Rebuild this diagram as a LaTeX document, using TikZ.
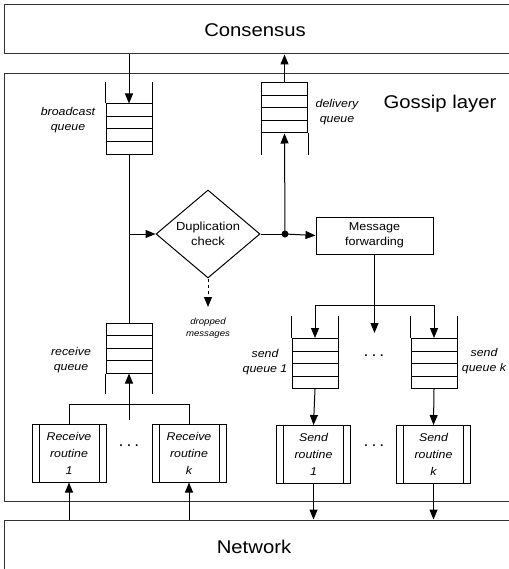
\documentclass[tikz,border=0pt]{standalone}
\usepackage{fontspec}
\setmainfont[FakeStretch=1.1]{Liberation Sans}
\usetikzlibrary{arrows.meta,shapes.geometric,calc}
\begin{document}
\begin{tikzpicture}[x=1bp,y=-1bp,line width=1bp,
  >={Triangle[length=10bp,width=8bp]},
  layerbox/.style={draw=black!80,minimum width=600bp,inner sep=0},
  bigtext/.style={font=\fontsize{18.5}{20}\selectfont},
  qlabel/.style={align=center,font=\fontsize{11.3}{15}\selectfont\itshape},
  queue/.style={draw,minimum width=46bp,minimum height=50bp,inner sep=0,
    path picture={\foreach \f in {0.25,0.5,0.75}
      \draw ($(path picture bounding box.north west)!\f!(path picture bounding box.south west)$) --
            ($(path picture bounding box.north east)!\f!(path picture bounding box.south east)$);}},
  routine/.style={draw,minimum width=74bp,minimum height=58bp,inner sep=0,align=center,
    font=\fontsize{11.3}{17}\selectfont\itshape,
    path picture={
      \draw ([xshift=7bp]path picture bounding box.north west) -- ([xshift=7bp]path picture bounding box.south west);
      \draw ([xshift=-7bp]path picture bounding box.north east) -- ([xshift=-7bp]path picture bounding box.south east);}},
  procbox/.style={draw,align=center,inner sep=0,font=\fontsize{11.5}{15}\selectfont},
  dotsnode/.style={font=\fontsize{16}{16}\selectfont,inner sep=0}
]
\useasboundingbox (0,0) rectangle (509,569);
% layers
\node[layerbox,minimum height=49.5bp] (cons) at (305,29.25) {};
\node[bigtext] (constext) at (255,30) {Consensus};
\node[layerbox,minimum height=427bp] (gossip) at (305,287.5) {};
\node[bigtext] (gosstext) at (440,104) {Gossip layer};
\node[layerbox,minimum height=80bp] (net) at (305,560) {};
\node[bigtext] (nettext) at (254,547) {Network};

% queues
\node[queue] (bq) at (129,129) {};
\draw (bq.north west) -- ++(0,-21) (bq.north east) -- ++(0,-21);
\node[qlabel] (bql) at (68,120) {broadcast\\queue};

\node[queue] (dq) at (284.5,108) {};
\draw (dq.south west) -- ++(0,21) (dq.south east) -- ++(0,21);
\node[qlabel] (dql) at (337,112) {delivery\\queue};

\node[queue] (rq) at (129,348) {};
\draw (rq.south west) -- ++(0,20) (rq.south east) -- ++(0,20);
\node[qlabel] (rql) at (71,360) {receive\\queue};

\node[queue] (sq1) at (315,363.5) {};
\draw (sq1.north west) -- ++(0,-22) (sq1.north east) -- ++(0,-22);
\node[qlabel] (sq1l) at (265,362) {send\\queue 1};

\node[queue] (sqk) at (434,363.5) {};
\draw (sqk.north west) -- ++(0,-22) (sqk.north east) -- ++(0,-22);
\node[qlabel] (sqkl) at (484,361) {send\\queue k};

\node[dotsnode] (qdots) at (374,356) {.\kern3bp.\kern3bp.};

% duplication check
\node[draw,diamond,minimum width=104bp,minimum height=88bp,inner sep=0,aspect=1.18,
      align=center,font=\fontsize{11.8}{15}\selectfont] (dup) at (208,234) {Duplication\\check};
\node[fill,circle,inner sep=0,minimum size=7bp] (dot) at (285,234) {};
\node[procbox,minimum width=117bp,minimum height=37bp] (mf) at (374.5,235.5) {Message\\forwarding};
\coordinate (drop) at (208,307);
\node[align=center,font=\fontsize{8.8}{12}\selectfont\itshape] (dropl) at (208,328) {dropped\\messages};

% routines
\node[routine] (rr1) at (69,453) {Receive\\routine\\1};
\node[routine] (rrk) at (189,453) {Receive\\routine\\k};
\node[dotsnode] (rdots) at (129,446) {.\kern3bp.\kern3bp.};
\node[routine] (sr1) at (313.5,454.5) {Send\\routine\\1};
\node[routine] (srk) at (433.5,454.5) {Send\\routine\\k};
\node[dotsnode] (sdots) at (374,446) {.\kern3bp.\kern3bp.};

\coordinate (split) at (374,305);
\coordinate (midend) at (374,333);
\coordinate (rjoin) at (129,404);
\coordinate (rstart) at (129,420);

% connectors
\draw[->] (bq.north |- cons.south) -- (bq.north);
\draw[->] (dq.north) -- (dq.north |- cons.south);
\draw (bq.south) -- (rq.north);
\draw[->] (bq.south |- dup.west) -- (dup.west);
\draw (dup.east) -- (dot.center);
\draw[->] (dot.center) -- (mf.west);
\draw[->] (dot.center) -- (dq.south);
\draw[->,dash pattern=on 3.5bp off 2.5bp] (dup.south) -- (drop);
\draw (mf.south) -- (mf.south |- split);
\draw (sq1.north |- split) -- (sqk.north |- split);
\draw[->] (sq1.north |- split) -- (sq1.north);
\draw[->] (sqk.north |- split) -- (sqk.north);
\draw[->] (mf.south |- split) -- (mf.south |- midend);
\draw[->] (sq1.south) -- (sr1.north);
\draw[->] (sqk.south) -- (srk.north);
\draw[->] (sr1.south) -- (sr1.south |- net.north);
\draw[->] (srk.south) -- (srk.south |- net.north);
\draw[->] (rr1.south |- net.north) -- (rr1.south);
\draw[->] (rrk.south |- net.north) -- (rrk.south);
\draw (rr1.north) -- (rr1.north |- rjoin) -- (rrk.north |- rjoin) -- (rrk.north);
\draw[->] (rstart) -- (rq.south);
\end{tikzpicture}
\end{document}
